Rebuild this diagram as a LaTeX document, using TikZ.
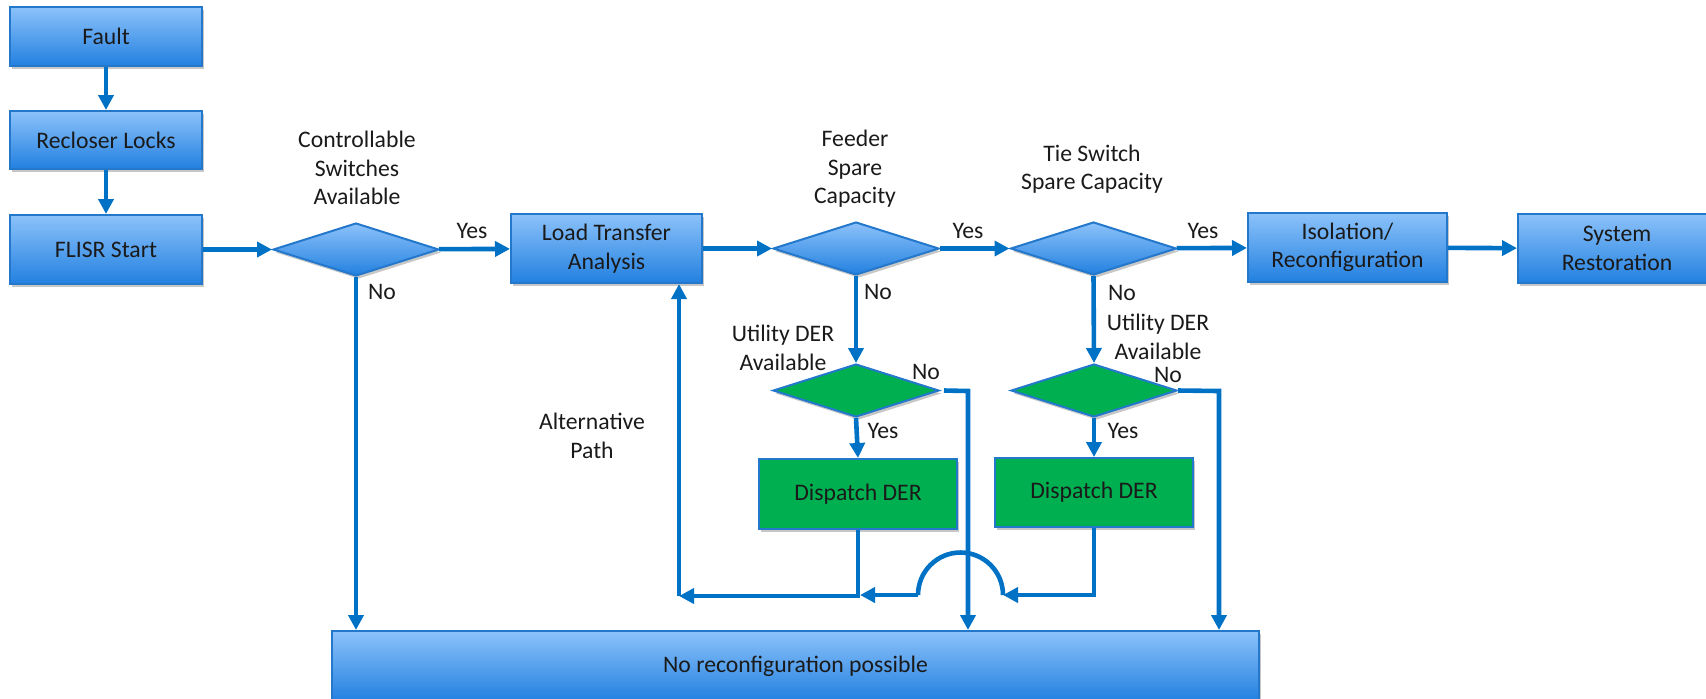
\documentclass[tikz,border=0pt]{standalone}
\usepackage{fontspec}
\setmainfont{Carlito}
\usetikzlibrary{shapes.geometric,arrows.meta,shadows}
\definecolor{flow}{RGB}{0,114,198}
\definecolor{boxtop}{RGB}{140,194,250}
\definecolor{boxbot}{RGB}{34,128,224}
\definecolor{boxline}{RGB}{36,120,204}
\definecolor{dergreen}{RGB}{0,176,80}
\definecolor{ink}{RGB}{26,26,26}

\begin{document}
\begin{tikzpicture}[x=0.5pt,y=-0.5pt,
  font=\fontsize{11.85pt}{14.25pt}\selectfont, text=ink,
  softshadow/.style={drop shadow={shadow xshift=1.2pt,shadow yshift=-1.5pt,opacity=0.22,fill=black}},
  bluebox/.style={rectangle, draw=boxline, line width=1pt, top color=boxtop, bottom color=boxbot,
    align=center, inner sep=0pt, softshadow},
  greenbox/.style={rectangle, draw=boxline, line width=1pt, fill=dergreen,
    align=center, inner sep=0pt, softshadow},
  bluedec/.style={diamond, draw=boxline, line width=1pt, top color=boxtop, bottom color=boxbot,
    inner sep=0pt, minimum width=83pt, minimum height=26.5pt, softshadow},
  greendec/.style={diamond, draw=boxline, line width=1pt, fill=dergreen,
    inner sep=0pt, minimum width=83pt, minimum height=26.5pt, softshadow},
  lbl/.style={align=center, inner sep=0pt},
  flowline/.style={draw=flow, line width=2.3pt},
  arr/.style={flowline, -{Triangle[length=7.5pt,width=7.5pt]}}
]
\useasboundingbox (0,0) rectangle (1706,698);

% process boxes
\node[bluebox, minimum width=96pt, minimum height=29.5pt] (fault) at (106,36.5) {Fault};
\node[bluebox, minimum width=96pt, minimum height=29pt] (recl) at (106,140) {Recloser Locks};
\node[bluebox, minimum width=96pt, minimum height=34.5pt] (flisr) at (106,249.5) {FLISR Start};
\node[bluebox, minimum width=95.5pt, minimum height=34.5pt] (lta) at (606.5,248.5) {Load Transfer\\Analysis};
\node[bluebox, minimum width=99.5pt, minimum height=34.5pt] (iso) at (1347.5,247.5) {Isolation/\\Reconfiguration};
\node[bluebox, minimum width=99pt, minimum height=34.5pt] (sys) at (1617,248.5) {System\\Restoration};
\node[bluebox, minimum width=463.5pt, minimum height=35pt] (nore) at (795.5,666) {No reconfiguration possible};

% decisions
\node[bluedec] (d1) at (356,249.5) {};
\node[bluedec] (d2) at (856,248.5) {};
\node[bluedec] (d3) at (1093.5,248.5) {};
\node[greendec] (g1) at (856,390.5) {};
\node[greendec] (g2) at (1094,390.5) {};

% DER dispatch
\node[greenbox, minimum width=99pt, minimum height=35pt] (dis1) at (858,494) {Dispatch DER};
\node[greenbox, minimum width=99pt, minimum height=34.5pt] (dis2) at (1094,492.5) {Dispatch DER};

% decision captions and branch labels
\node[lbl] (qcs) at (357,168) {Controllable\\Switches\\Available};
\node[lbl] (qfs) at (855,169) {Feeder\\Spare\\Capacity};
\node[lbl] (qts) at (1092,169) {Tie Switch\\Spare Capacity};
\node[lbl] (qu1) at (783,348) {Utility DER\\Available};
\node[lbl] (qu2) at (1158,337) {Utility DER\\Available};
\node[lbl] (alt) at (592,436) {Alternative\\Path};
\node[lbl] (y1) at (472,231) {Yes};
\node[lbl] (n1) at (382,292) {No};
\node[lbl] (y2) at (968,231) {Yes};
\node[lbl] (n2) at (878,292) {No};
\node[lbl] (y3) at (1203,231) {Yes};
\node[lbl] (n3) at (1122,293) {No};
\node[lbl] (n4) at (926,372) {No};
\node[lbl] (n5) at (1168,375) {No};
\node[lbl] (y4) at (883,431) {Yes};
\node[lbl] (y5) at (1123,431) {Yes};

% bend points
\coordinate (b1) at (968,391);
\coordinate (b2) at (1219,391);
\coordinate (r1) at (679,596);
\coordinate (hopR) at (1003,595);
\coordinate (hopL) at (918,595);

% main flow
\draw[arr] (fault) -- (recl);
\draw[arr] (recl) -- (flisr);
\draw[arr] (flisr) -- (d1);
\draw[arr] (d1) -- (lta);
\draw[arr] (lta) -- (d2);
\draw[arr] (d2) -- (d3);
\draw[arr] (d3) -- (iso);
\draw[arr] (iso) -- (sys);

% "No" branches
\draw[arr] (d1.south) -- (d1.south |- nore.north);
\draw[arr] (d2.south) -- (g1.north);
\draw[arr] (d3.south) -- (g2.north);
\draw[arr] (g1.south) -- (dis1.north);
\draw[arr] (g2.south) -- (dis2.north);
\draw[arr] ([xshift=2pt]g1.east) -- (b1) -- (b1 |- nore.north);
\draw[arr] (g2.east) -- (b2) -- (b2 |- nore.north);

% alternative path back to load transfer analysis
\draw[arr] (dis1.south) |- (r1);
\draw[arr] (r1) -- (r1 |- lta.south);
\draw[arr] (dis2.south) |- (hopR);
\draw[flowline] (hopR) arc[start angle=0, end angle=180, radius=21.25pt];
\draw[arr, shorten >=1pt] (hopL) -- (dis1.south |- hopL);
\end{tikzpicture}
\end{document}
